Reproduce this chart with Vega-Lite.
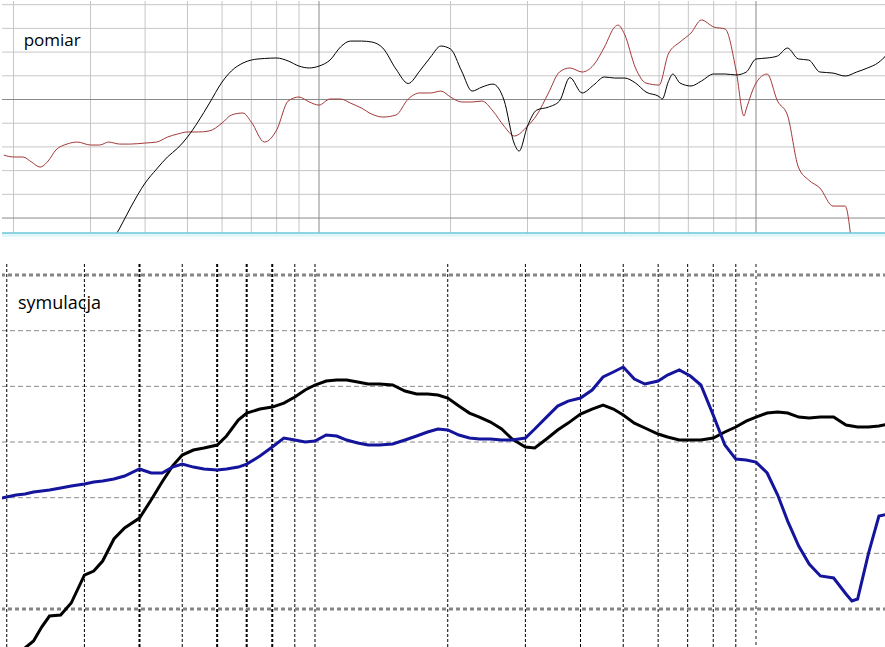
{
"$schema":"https://vega.github.io/schema/vega-lite/v6.json",
"padding":0,
"background":"white",
"spacing":27,
"bounds":"flush",
"config":{"view":{"stroke":null}},
"datasets":{
"top_black":[{"f":315,"db":76.1},{"f":330,"db":77.5},{"f":350,"db":79.15},{"f":370,"db":80.84},{"f":400,"db":82.95},{"f":425,"db":84.13},{"f":450,"db":85.15},{"f":475,"db":85.9},{"f":500,"db":86.83},{"f":530,"db":88.18},{"f":560,"db":89.62},{"f":600,"db":91.47},{"f":630,"db":92.4},{"f":670,"db":93.08},{"f":700,"db":93.33},{"f":750,"db":93.46},{"f":800,"db":93.5},{"f":850,"db":93.25},{"f":900,"db":92.82},{"f":950,"db":92.66},{"f":1000,"db":92.82},{"f":1060,"db":93.33},{"f":1120,"db":94.43},{"f":1180,"db":94.93},{"f":1250,"db":94.93},{"f":1320,"db":94.85},{"f":1400,"db":94.34},{"f":1500,"db":92.57},{"f":1600,"db":91.35},{"f":1700,"db":92.4},{"f":1800,"db":93.58},{"f":1900,"db":94.51},{"f":2000,"db":94.26},{"f":2120,"db":92.4},{"f":2240,"db":90.71},{"f":2360,"db":91.05},{"f":2500,"db":91.3},{"f":2650,"db":89.96},{"f":2800,"db":86.24},{"f":2870,"db":85.65},{"f":3000,"db":87.76},{"f":3150,"db":89.11},{"f":3350,"db":89.36},{"f":3550,"db":89.87},{"f":3750,"db":91.85},{"f":4000,"db":90.55},{"f":4250,"db":91.22},{"f":4500,"db":91.9},{"f":4750,"db":91.81},{"f":5000,"db":91.81},{"f":5300,"db":91.39},{"f":5600,"db":90.63},{"f":6000,"db":90.25},{"f":6100,"db":90.04},{"f":6300,"db":91.5},{"f":6450,"db":92.15},{"f":6700,"db":91.39},{"f":7100,"db":91.14},{"f":7500,"db":91.56},{"f":8000,"db":92.15},{"f":8500,"db":92.15},{"f":9000,"db":92.07},{"f":9500,"db":92.32},{"f":10000,"db":93.42},{"f":10600,"db":93.5},{"f":11200,"db":93.67},{"f":11800,"db":94.34},{"f":12500,"db":93.42},{"f":13200,"db":93.33},{"f":14000,"db":92.32},{"f":15000,"db":92.23},{"f":16000,"db":91.98},{"f":17000,"db":92.32},{"f":18000,"db":92.66},{"f":19000,"db":93.08},{"f":20000,"db":93.84}],
"top_red":[{"f":190,"db":85.31},{"f":200,"db":85.15},{"f":210,"db":85.15},{"f":220,"db":84.72},{"f":230,"db":84.3},{"f":240,"db":84.81},{"f":250,"db":85.74},{"f":265,"db":86.24},{"f":280,"db":86.41},{"f":300,"db":86.16},{"f":315,"db":86.16},{"f":330,"db":86.41},{"f":350,"db":86.24},{"f":370,"db":86.24},{"f":400,"db":86.33},{"f":425,"db":86.41},{"f":450,"db":86.83},{"f":475,"db":87.09},{"f":500,"db":87.26},{"f":530,"db":87.26},{"f":560,"db":87.34},{"f":600,"db":88.01},{"f":630,"db":88.69},{"f":670,"db":88.86},{"f":700,"db":88.1},{"f":750,"db":86.41},{"f":800,"db":87.43},{"f":850,"db":89.87},{"f":900,"db":90.21},{"f":950,"db":89.79},{"f":1000,"db":89.53},{"f":1060,"db":90.04},{"f":1120,"db":90.04},{"f":1180,"db":89.7},{"f":1250,"db":89.28},{"f":1320,"db":88.77},{"f":1400,"db":88.52},{"f":1500,"db":88.69},{"f":1600,"db":90.04},{"f":1700,"db":90.55},{"f":1800,"db":90.55},{"f":1900,"db":90.71},{"f":2000,"db":90.21},{"f":2120,"db":89.79},{"f":2240,"db":89.79},{"f":2360,"db":89.87},{"f":2500,"db":89.03},{"f":2650,"db":87.76},{"f":2800,"db":86.92},{"f":3000,"db":87.76},{"f":3150,"db":88.69},{"f":3350,"db":90.55},{"f":3550,"db":92.32},{"f":3750,"db":92.66},{"f":4000,"db":92.32},{"f":4250,"db":92.91},{"f":4500,"db":94.43},{"f":4750,"db":96.12},{"f":4833,"db":96.28},{"f":5000,"db":95.52},{"f":5300,"db":92.66},{"f":5600,"db":91.39},{"f":6000,"db":91.22},{"f":6300,"db":93.84},{"f":6700,"db":94.85},{"f":7100,"db":95.61},{"f":7500,"db":96.71},{"f":8000,"db":96.12},{"f":8500,"db":95.95},{"f":9000,"db":92.49},{"f":9387,"db":88.61},{"f":9500,"db":89.2},{"f":10000,"db":91.39},{"f":10600,"db":92.15},{"f":11200,"db":89.87},{"f":11800,"db":88.69},{"f":12500,"db":84.3},{"f":13200,"db":83.2},{"f":14000,"db":82.53},{"f":15000,"db":81.01},{"f":16000,"db":81.01},{"f":16500,"db":78.23}],
"bot_black":[{"f":210,"db":64.25},{"f":220,"db":66.5},{"f":230,"db":67.13},{"f":240,"db":68.38},{"f":250,"db":69.37},{"f":265,"db":69.46},{"f":280,"db":70.54},{"f":300,"db":73.05},{"f":315,"db":73.41},{"f":330,"db":74.31},{"f":350,"db":76.29},{"f":370,"db":77.28},{"f":400,"db":78.17},{"f":425,"db":79.79},{"f":450,"db":81.41},{"f":475,"db":82.84},{"f":500,"db":83.83},{"f":530,"db":84.28},{"f":560,"db":84.46},{"f":600,"db":84.73},{"f":630,"db":85.54},{"f":670,"db":86.97},{"f":700,"db":87.6},{"f":750,"db":87.96},{"f":800,"db":88.14},{"f":850,"db":88.5},{"f":900,"db":89.04},{"f":950,"db":89.67},{"f":1000,"db":90.12},{"f":1060,"db":90.48},{"f":1120,"db":90.57},{"f":1180,"db":90.57},{"f":1250,"db":90.39},{"f":1320,"db":90.21},{"f":1400,"db":90.21},{"f":1500,"db":90.12},{"f":1600,"db":89.58},{"f":1700,"db":89.31},{"f":1800,"db":89.31},{"f":1900,"db":89.22},{"f":2000,"db":88.95},{"f":2120,"db":88.23},{"f":2240,"db":87.6},{"f":2360,"db":87.24},{"f":2500,"db":86.79},{"f":2650,"db":86.17},{"f":2800,"db":85.27},{"f":3000,"db":84.55},{"f":3150,"db":84.46},{"f":3350,"db":85.27},{"f":3550,"db":86.08},{"f":3750,"db":86.7},{"f":4000,"db":87.51},{"f":4250,"db":87.96},{"f":4500,"db":88.32},{"f":4750,"db":87.96},{"f":5000,"db":87.42},{"f":5300,"db":86.7},{"f":5600,"db":86.26},{"f":6000,"db":85.72},{"f":6300,"db":85.45},{"f":6700,"db":85.18},{"f":7100,"db":85.18},{"f":7500,"db":85.18},{"f":8000,"db":85.36},{"f":8500,"db":85.9},{"f":9000,"db":86.35},{"f":9500,"db":86.88},{"f":10000,"db":87.24},{"f":10600,"db":87.6},{"f":11200,"db":87.69},{"f":11800,"db":87.6},{"f":12500,"db":87.24},{"f":13200,"db":87.15},{"f":14000,"db":87.24},{"f":15000,"db":87.24},{"f":16000,"db":86.53},{"f":17000,"db":86.35},{"f":18000,"db":86.35},{"f":19000,"db":86.44},{"f":20000,"db":86.61}],
"bot_blue":[{"f":190,"db":79.88},{"f":200,"db":80.06},{"f":210,"db":80.24},{"f":220,"db":80.33},{"f":230,"db":80.51},{"f":240,"db":80.6},{"f":250,"db":80.69},{"f":265,"db":80.87},{"f":280,"db":81.05},{"f":300,"db":81.23},{"f":315,"db":81.41},{"f":330,"db":81.5},{"f":350,"db":81.68},{"f":370,"db":81.95},{"f":400,"db":82.58},{"f":425,"db":82.22},{"f":450,"db":82.22},{"f":475,"db":82.75},{"f":500,"db":83.02},{"f":530,"db":82.75},{"f":560,"db":82.58},{"f":600,"db":82.49},{"f":630,"db":82.58},{"f":670,"db":82.75},{"f":700,"db":83.02},{"f":750,"db":83.74},{"f":800,"db":84.55},{"f":850,"db":85.36},{"f":900,"db":85.18},{"f":950,"db":85.0},{"f":1000,"db":85.09},{"f":1060,"db":85.63},{"f":1120,"db":85.54},{"f":1180,"db":85.18},{"f":1250,"db":84.91},{"f":1320,"db":84.73},{"f":1400,"db":84.73},{"f":1500,"db":84.82},{"f":1600,"db":85.18},{"f":1700,"db":85.54},{"f":1800,"db":85.9},{"f":1900,"db":86.17},{"f":2000,"db":86.08},{"f":2120,"db":85.63},{"f":2240,"db":85.36},{"f":2360,"db":85.27},{"f":2500,"db":85.27},{"f":2650,"db":85.18},{"f":2800,"db":85.18},{"f":3000,"db":85.36},{"f":3150,"db":86.17},{"f":3350,"db":87.24},{"f":3550,"db":88.23},{"f":3750,"db":88.68},{"f":4000,"db":88.95},{"f":4250,"db":89.67},{"f":4500,"db":90.84},{"f":4750,"db":91.29},{"f":5000,"db":91.74},{"f":5300,"db":90.66},{"f":5600,"db":90.21},{"f":6000,"db":90.48},{"f":6300,"db":91.02},{"f":6700,"db":91.47},{"f":7100,"db":90.93},{"f":7500,"db":90.12},{"f":8000,"db":87.42},{"f":8500,"db":84.73},{"f":9000,"db":83.47},{"f":9500,"db":83.38},{"f":10000,"db":83.2},{"f":10600,"db":82.22},{"f":11200,"db":80.24},{"f":11800,"db":77.9},{"f":12500,"db":75.66},{"f":13200,"db":74.04},{"f":14000,"db":72.97},{"f":15000,"db":72.79},{"f":16000,"db":71.35},{"f":16500,"db":70.72},{"f":17000,"db":70.9},{"f":18000,"db":75.03},{"f":19000,"db":78.35},{"f":20000,"db":78.53}],
"top_v_minor":[{"f":200},{"f":300},{"f":400},{"f":500},{"f":600},{"f":700},{"f":800},{"f":900},{"f":2000},{"f":3000},{"f":4000},{"f":5000},{"f":6000},{"f":7000},{"f":8000},{"f":9000}],
"top_v_major":[{"f":1000},{"f":10000}],
"top_h_minor":[{"db":82},{"db":84},{"db":86},{"db":88},{"db":92},{"db":94},{"db":96},{"db":98}],
"top_h_major":[{"db":80},{"db":90}],
"top_edge":[{"db":78.73,"db2":78.4}],
"bot_v_thin":[{"f":200},{"f":300},{"f":500},{"f":900},{"f":1000},{"f":2000},{"f":3000},{"f":4000},{"f":5000},{"f":6000},{"f":7000},{"f":8000},{"f":9000}],
"bot_v_thick":[{"f":400},{"f":600},{"f":700},{"f":800}],
"bot_v_gray":[{"f":10000}],
"bot_h_thin":[{"db":95},{"db":90},{"db":85},{"db":80},{"db":75}],
"bot_h_thick":[{"db":100},{"db":70}],
"top_label":[{"f":211,"db":94.51,"label":"pomiar"}],
"bot_label":[{"f":212,"db":96.94,"label":"symulacja"}]
},
"vconcat":[
{"width":885,"height":236,
"encoding":{
"x":{"field":"f","type":"quantitative","scale":{"type":"log","domain":[188.2,19940],"nice":false},"axis":null},
"y":{"field":"db","type":"quantitative","scale":{"domain":[78.4,98.31],"nice":false,"zero":false},"axis":null}
},
"layer":[
{"data":{"name":"top_v_minor"},"mark":{"type":"rule","color":"#c6c6c6","strokeWidth":1},"encoding":{"y":null}},
{"data":{"name":"top_h_minor"},"mark":{"type":"rule","color":"#c6c6c6","strokeWidth":1},"encoding":{"x":null}},
{"data":{"name":"top_v_major"},"mark":{"type":"rule","color":"#8a8a8a","strokeWidth":1},"encoding":{"y":null}},
{"data":{"name":"top_h_major"},"mark":{"type":"rule","color":"#8a8a8a","strokeWidth":1},"encoding":{"x":null}},
{"data":{"name":"top_red"},"mark":{"type":"line","color":"#a33838","strokeWidth":1,"interpolate":"monotone","clip":true},"encoding":{}},
{"data":{"name":"top_black"},"mark":{"type":"line","color":"#000000","strokeWidth":1,"interpolate":"monotone","clip":true},"encoding":{}},
{"data":{"name":"top_edge"},"mark":{"type":"rect","color":"#e2f7fc"},"encoding":{"x":null,"y2":{"field":"db2"}}},
{"data":{"name":"top_edge"},"mark":{"type":"rule","color":"#6cc6dc","strokeWidth":1.5},"encoding":{"x":null}},
{"data":{"name":"top_label"},"mark":{"type":"text","align":"left","baseline":"alphabetic","font":"Open Sans","fontSize":17,"color":"#000000"},"encoding":{"text":{"field":"label"}}}
]},
{"width":885,"height":384,
"encoding":{
"x":{"field":"f","type":"quantitative","scale":{"type":"log","domain":[195.1,19820],"nice":false},"axis":null},
"y":{"field":"db","type":"quantitative","scale":{"domain":[66.5,100.99],"nice":false,"zero":false},"axis":null}
},
"layer":[
{"data":{"name":"bot_h_thin"},"mark":{"type":"rule","color":"#8a8a8a","strokeWidth":1,"strokeDash":[5,3]},"encoding":{"x":null}},
{"data":{"name":"bot_v_thin"},"mark":{"type":"rule","color":"#000000","strokeWidth":1,"strokeDash":[3,2]},"encoding":{"y":null}},
{"data":{"name":"bot_v_thick"},"mark":{"type":"rule","color":"#000000","strokeWidth":2,"strokeDash":[3,2]},"encoding":{"y":null}},
{"data":{"name":"bot_v_gray"},"mark":{"type":"rule","color":"#8a8a8a","strokeWidth":2,"strokeDash":[3,3]},"encoding":{"y":null}},
{"data":{"name":"bot_h_thick"},"mark":{"type":"rule","color":"#858585","strokeWidth":3,"strokeDash":[4,3]},"encoding":{"x":null}},
{"data":{"name":"bot_black"},"mark":{"type":"line","color":"#000000","strokeWidth":3,"clip":true},"encoding":{}},
{"data":{"name":"bot_blue"},"mark":{"type":"line","color":"#14149c","strokeWidth":3,"clip":true},"encoding":{}},
{"data":{"name":"bot_label"},"mark":{"type":"text","align":"left","baseline":"alphabetic","font":"Open Sans","fontSize":18,"color":"#000000"},"encoding":{"text":{"field":"label"}}}
]}
]
}
